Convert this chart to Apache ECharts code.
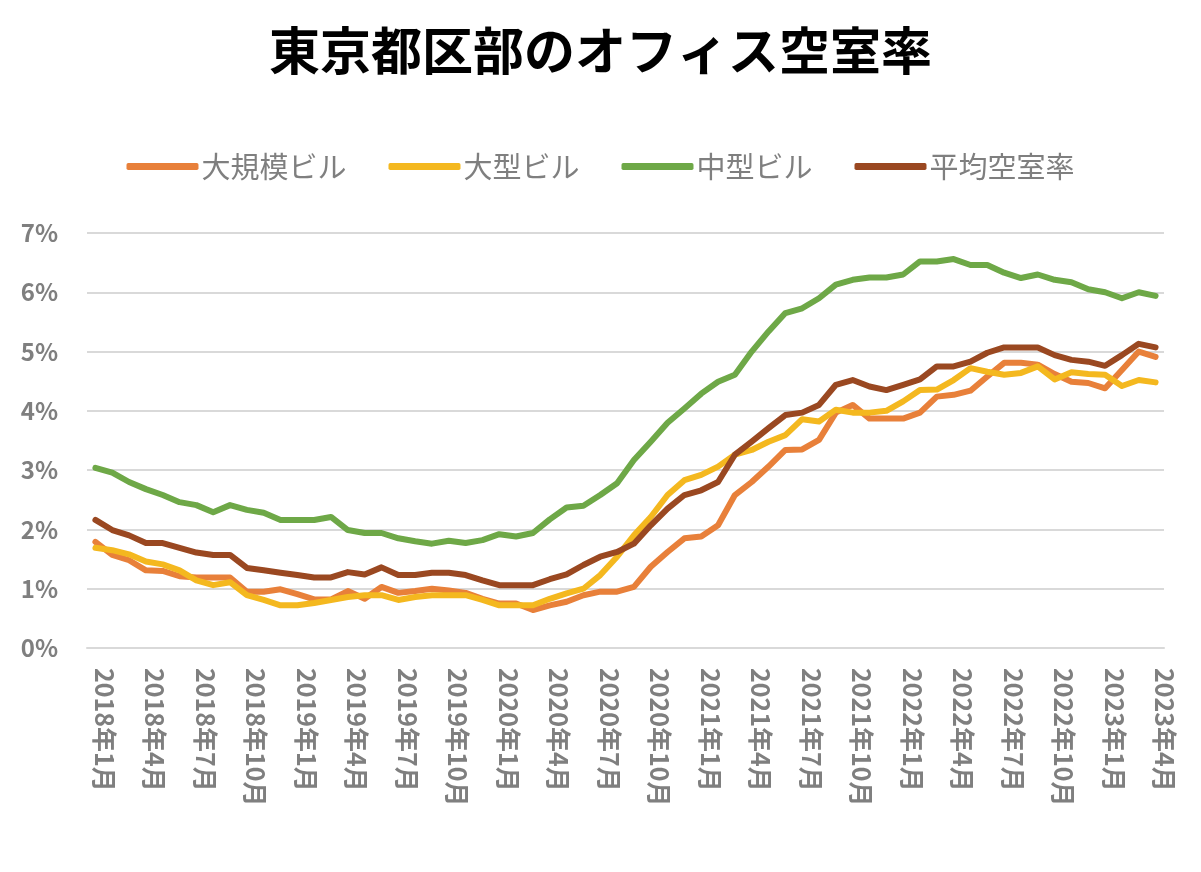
<!DOCTYPE html>
<html>
<head>
<meta charset="utf-8">
<script src="https://cdn.jsdelivr.net/npm/echarts@6/dist/echarts.min.js"></script>
<style>
html,body{margin:0;padding:0;background:#fff;}
#chart{width:1201px;height:872px;}
</style>
</head>
<body>
<div id="chart"></div>
<script>
// Months 2018年1月 .. 2023年4月
const categories = [];
for (let y = 2018; y <= 2023; y++) {
  for (let m = 1; m <= 12; m++) {
    if (y === 2023 && m > 4) break;
    categories.push(y + '年' + m + '月');
  }
}
const titleText = '東京都区部のオフィス空室率';
const seriesNames = ['大規模ビル', '大型ビル', '中型ビル', '平均空室率'];
const yTicks = [0, 1, 2, 3, 4, 5, 6, 7];

const largeScale = [1.79,1.57,1.48,1.31,1.30,1.21,1.19,1.19,1.19,0.95,0.95,0.99,0.91,0.82,0.82,0.96,0.83,1.03,0.93,0.96,1.00,0.97,
  0.93,0.83,0.75,0.75,0.64,0.72,0.78,0.89,0.95,0.95,1.03,1.37,1.62,1.85,1.88,2.07,2.58,2.80,3.06,3.34,3.35,3.51,
  3.97,4.10,3.87,3.87,3.87,3.97,4.24,4.27,4.34,4.58,4.81,4.81,4.78,4.62,4.49,4.47,4.38,4.69,5.00,4.91];
const large = [1.69,1.65,1.58,1.46,1.41,1.31,1.14,1.06,1.11,0.89,0.81,0.72,0.72,0.76,0.81,0.86,0.89,0.89,0.81,0.86,0.89,0.89,
  0.89,0.81,0.72,0.72,0.72,0.83,0.92,1.00,1.23,1.54,1.90,2.21,2.58,2.83,2.92,3.06,3.26,3.34,3.48,3.59,3.86,3.82,
  4.02,3.97,3.97,4.00,4.16,4.35,4.36,4.52,4.72,4.66,4.61,4.64,4.75,4.53,4.65,4.62,4.61,4.42,4.52,4.48];
const medium = [3.04,2.96,2.80,2.68,2.58,2.46,2.41,2.29,2.41,2.33,2.28,2.16,2.16,2.16,2.21,1.99,1.94,1.94,1.85,1.80,1.76,1.81,
  1.77,1.82,1.92,1.88,1.94,2.17,2.37,2.40,2.58,2.78,3.17,3.48,3.80,4.04,4.29,4.49,4.61,5.00,5.34,5.65,5.73,5.90,
  6.13,6.21,6.25,6.25,6.30,6.52,6.52,6.56,6.46,6.46,6.33,6.24,6.30,6.21,6.17,6.05,6.00,5.90,6.00,5.94];
const average = [2.16,1.99,1.90,1.77,1.77,1.69,1.61,1.57,1.57,1.35,1.31,1.27,1.23,1.19,1.19,1.28,1.24,1.36,1.23,1.23,1.27,1.27,
  1.23,1.14,1.06,1.06,1.06,1.16,1.24,1.40,1.54,1.62,1.76,2.07,2.35,2.58,2.66,2.80,3.26,3.48,3.71,3.93,3.97,4.10,
  4.44,4.52,4.41,4.35,4.44,4.53,4.75,4.75,4.83,4.98,5.07,5.07,5.07,4.94,4.86,4.83,4.76,4.94,5.13,5.07];

const colors = ['#E8803A', '#F4B81F', '#6EA847', '#9A4821'];
const seriesData = [largeScale, large, medium, average];

const chart = echarts.init(document.getElementById('chart'), null, {renderer: 'canvas'});
const font = '"Noto Sans CJK JP", "Noto Sans", sans-serif';
chart.setOption({
  backgroundColor: '#ffffff',
  animation: false,
  color: colors,
  title: {
    text: titleText,
    left: 'center',
    top: 20,
    textStyle: {fontFamily: font, fontSize: 51, fontWeight: 'bold', color: '#000000'}
  },
  legend: {
    top: 147,
    left: 'center',
    itemGap: 42,
    itemWidth: 72,
    itemHeight: 7,
    icon: 'roundRect',
    data: seriesNames,
    textStyle: {fontFamily: font, fontSize: 29, color: '#7f7f7f', padding: [0, 0, 0, -2]}
  },
  grid: {left: 87, right: 37, top: 233, bottom: 224, containLabel: false},
  xAxis: {
    type: 'category',
    data: categories,
    boundaryGap: true,
    axisLine: {show: true, lineStyle: {color: '#d9d9d9', width: 2}},
    axisTick: {show: false},
    axisLabel: {
      interval: 2,
      rotate: -90,
      margin: 20,
      color: '#7f7f7f',
      fontFamily: font,
      fontWeight: 'bold',
      fontSize: 25,
      formatter: v => '{a|' + v + '}',
      rich: {
        a: {
          color: '#7f7f7f',
          fontFamily: font,
          fontWeight: 'bold',
          fontSize: 25,
          padding: [0, 0, 18, 0]
        }
      }
    },
    splitLine: {show: false}
  },
  yAxis: {
    type: 'value',
    min: yTicks[0],
    max: yTicks[yTicks.length - 1],
    interval: 1,
    axisLine: {show: false},
    axisTick: {show: false},
    axisLabel: {
      formatter: v => v + '%',
      color: '#7f7f7f',
      fontFamily: font,
      fontWeight: 'bold',
      fontSize: 24,
      margin: 29
    },
    splitLine: {show: true, lineStyle: {color: '#d9d9d9', width: 2}}
  },
  series: seriesNames.map((name, i) => ({
    name: name,
    type: 'line',
    data: seriesData[i],
    showSymbol: false,
    symbol: 'none',
    lineStyle: {width: 6, color: colors[i], cap: 'round', join: 'round'},
    itemStyle: {color: colors[i]}
  }))
});
</script>
</body>
</html>
